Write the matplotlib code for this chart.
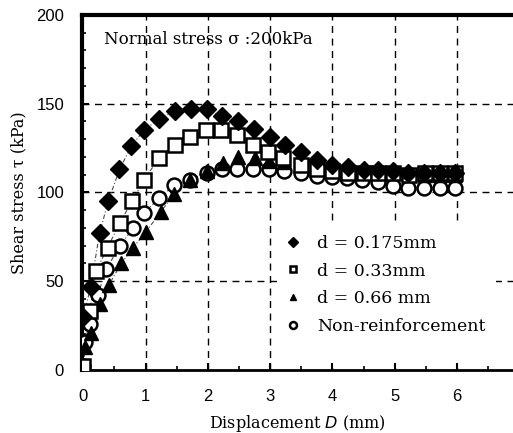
import numpy as np
import matplotlib.pyplot as plt
from matplotlib.patches import Rectangle

# d = 0.175 mm (filled diamonds)
x_d175 = [0.0, 0.12, 0.26, 0.40, 0.58, 0.77, 0.97, 1.22, 1.48, 1.73, 1.98, 2.22, 2.48,
          2.74, 2.99, 3.24, 3.50, 3.76, 4.00, 4.25, 4.50, 4.74, 4.98, 5.22, 5.47, 5.72, 5.97]
y_d175 = [30, 47, 77, 95, 113, 126, 135, 141.5, 146, 147, 147, 143, 140,
          136, 131, 127, 123, 118.5, 115.5, 114.5, 112.5, 112.5, 112, 111, 111, 111, 111]

# d = 0.33 mm (open squares)
x_d033 = [0.0, 0.10, 0.21, 0.39, 0.59, 0.78, 0.97, 1.22, 1.47, 1.72, 1.97, 2.21, 2.47,
          2.72, 2.97, 3.21, 3.50, 3.75, 4.00, 4.25, 4.50, 4.74, 4.98, 5.23, 5.48, 5.72, 5.97]
y_d033 = [2, 33, 56, 69, 83, 95, 107, 119.5, 127, 131.5, 135, 135, 132.5,
          127, 123, 119.5, 115.5, 113, 112, 111, 111, 111, 111, 110, 111, 111, 111]

# d = 0.66 mm (filled triangles)
x_d066 = [0.03, 0.13, 0.27, 0.41, 0.61, 0.80, 1.01, 1.24, 1.46, 1.72, 1.98, 2.24, 2.49,
          2.75, 2.98, 3.23, 3.50, 3.75, 4.00, 4.25, 4.50, 4.74, 4.98, 5.23, 5.48, 5.72, 5.97]
y_d066 = [13, 21, 37, 48, 60, 69, 78, 89, 99, 107, 112, 116.5, 120,
          119.5, 118, 117, 116.5, 114, 113, 112, 112, 111, 111, 110, 110, 110, 110]

# non-reinforcement (open circles)
x_none = [0.0, 0.03, 0.10, 0.23, 0.37, 0.59, 0.80, 0.98, 1.22, 1.46, 1.72, 1.98, 2.22,
          2.47, 2.73, 2.98, 3.22, 3.50, 3.75, 4.00, 4.24, 4.47, 4.73, 4.98, 5.22, 5.47, 5.72, 5.97]
y_none = [2, 16, 26, 42, 57, 70, 80, 88.5, 97, 104, 107, 111, 113,
          113, 113.5, 113, 112, 111, 109.5, 108.5, 108, 107, 106, 103.5, 102.5, 102.5, 102.5, 102.5]

labels = ['d = 0.175mm', 'd = 0.33mm', 'd = 0.66 mm', 'Non-reinforcement']

serif = 'DejaVu Serif'
sans = 'Liberation Sans'

fig = plt.figure(figsize=(5.13, 4.33), dpi=100)
ax = fig.add_axes([0.16, 0.1455, 0.84, 0.82])

grid = dict(color='black', lw=1.0, ls=(0, (5, 4)), zorder=1)
for gx in range(1, 7):
    ax.axvline(gx, **grid)
for gy in (50, 100, 150):
    ax.axhline(gy, **grid)
# blank area behind the legend (grid is hidden there)
ax.add_patch(Rectangle((3.12, 1), 3.5, 81, facecolor='white', edgecolor='none', zorder=1.5))

fit = dict(color='0.3', lw=0.8, ls=(0, (4, 2, 1, 2)), zorder=2)
ax.plot(x_d175[:12], y_d175[:12], **fit)
ax.plot(x_d033[:11], y_d033[:11], **fit)
ax.plot(x_d066[:11], y_d066[:11], **fit)
ax.plot(x_none[:12], y_none[:12], **fit)

ax.plot(x_none, y_none, 'o', ms=10, mfc='white', mec='black', mew=1.8, ls='none',
        zorder=3, label=labels[3])
ax.plot(x_d066, y_d066, '^', ms=10, color='black', ls='none', zorder=4, label=labels[2])
ax.plot(x_d033, y_d033, 's', ms=9.5, mfc='white', mec='black', mew=1.8, ls='none',
        zorder=5, label=labels[1])
ax.plot(x_d175, y_d175, 'D', ms=9.5, color='black', ls='none', zorder=6, label=labels[0])

ax.set_xlim(-0.02, 6.9)
ax.set_ylim(0, 200)
ax.set_xticks(range(0, 7))
ax.set_yticks([0, 50, 100, 150, 200])
ax.set_yticks(np.arange(0, 201, 10), minor=True)
ax.set_xticks(np.arange(0, 6.91, 0.5), minor=True)
ax.tick_params(which='both', direction='in', top=False, right=False)
ax.tick_params(which='major', length=5, width=1.5, labelsize=12)
ax.tick_params(axis='x', which='major', pad=14)
ax.tick_params(axis='y', which='major', pad=13)
ax.tick_params(which='minor', length=3, width=1.2)
for lab in ax.get_xticklabels() + ax.get_yticklabels():
    lab.set_fontfamily(sans)

ax.spines['right'].set_visible(False)
ax.spines['left'].set_linewidth(3)
ax.spines['top'].set_linewidth(3)
ax.spines['bottom'].set_linewidth(2)

ax.set_xlabel('Displacement $\\mathit{D}$ (mm)', fontfamily=serif, fontsize=11.5, labelpad=6)
ax.set_ylabel('Shear stress τ (kPa)', fontfamily=serif, fontsize=11.5, labelpad=6)
ax.text(0.33, 186, 'Normal stress σ :200kPa', fontfamily=serif, fontsize=12, va='center')

h, l = ax.get_legend_handles_labels()
order = [3, 2, 1, 0]
leg = ax.legend([h[i] for i in order], [l[i] for i in order], loc='upper left',
                bbox_to_anchor=(0.44, 0.42), frameon=False, markerscale=0.5,
                handlelength=0.8, handletextpad=1.0, labelspacing=0.62, borderpad=0.3,
                prop={'family': serif, 'size': 12.5})

fig.savefig('out.png', dpi=100)
